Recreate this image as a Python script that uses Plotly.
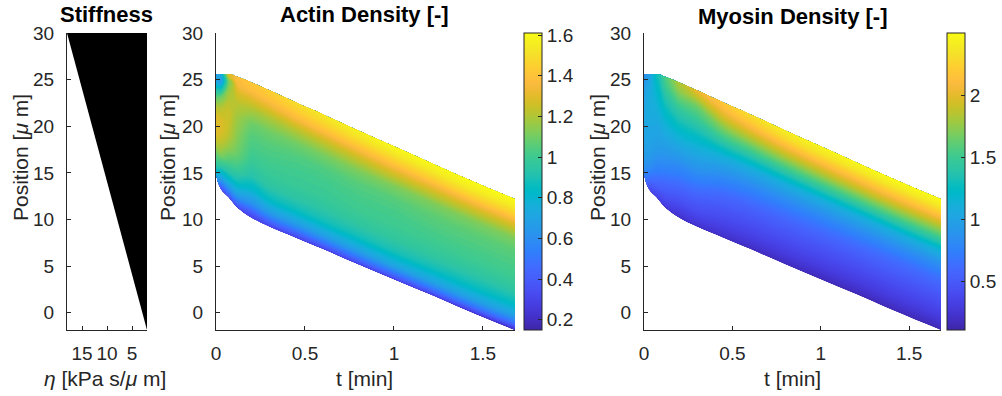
import plotly.graph_objects as go

# ---------------- data ----------------
# time grid [min] and the moving cell boundaries [um]
T = [0, 0.03, 0.07, 0.12, 0.2, 0.3, 0.45, 0.6, 0.8, 1.0, 1.2, 1.4, 1.68]
TOP = [25.2, 25.6, 25.6, 25.3, 24.7, 23.85, 22.55, 21.3, 19.55, 17.85, 16.15, 14.45, 12.2]
BOTTOM = [15.0, 13.2, 12.4, 11.3, 10.2, 9.25, 8.05, 6.85, 5.2, 3.6, 2.0, 0.35, -1.85]
# relative position inside the cell (0 = rear/bottom, 1 = front/top)
S = [0, 0.04, 0.1, 0.2, 0.3, 0.4, 0.5, 0.6, 0.7, 0.8, 0.88, 0.94, 1.0]

# actin density, one row per time in T, values along S
ACTIN = [
    [0.80, 0.88, 0.98, 1.08, 1.20, 1.28, 1.30, 1.28, 1.20, 1.05, 0.90, 0.75, 0.65],
    [0.35, 0.50, 0.70, 0.95, 1.12, 1.22, 1.28, 1.28, 1.22, 1.10, 0.85, 0.65, 0.75],
    [0.35, 0.50, 0.70, 0.92, 1.05, 1.15, 1.22, 1.25, 1.25, 1.20, 1.15, 1.10, 1.30],
    [0.33, 0.48, 0.68, 0.88, 1.00, 1.08, 1.12, 1.15, 1.18, 1.22, 1.28, 1.35, 1.38],
    [0.30, 0.40, 0.60, 0.80, 0.92, 0.98, 1.02, 1.05, 1.10, 1.20, 1.30, 1.38, 1.42],
    [0.30, 0.45, 0.65, 0.85, 0.95, 0.99, 1.02, 1.05, 1.10, 1.20, 1.32, 1.40, 1.45],
    [0.30, 0.45, 0.66, 0.86, 0.95, 0.99, 1.01, 1.04, 1.10, 1.22, 1.36, 1.44, 1.50],
    [0.30, 0.46, 0.67, 0.87, 0.95, 0.99, 1.01, 1.04, 1.11, 1.24, 1.39, 1.48, 1.54],
    [0.30, 0.47, 0.68, 0.87, 0.96, 1.00, 1.02, 1.05, 1.12, 1.26, 1.41, 1.51, 1.57],
    [0.30, 0.48, 0.70, 0.88, 0.96, 1.00, 1.02, 1.05, 1.12, 1.28, 1.43, 1.53, 1.60],
    [0.28, 0.47, 0.69, 0.87, 0.96, 1.00, 1.03, 1.06, 1.12, 1.28, 1.44, 1.54, 1.60],
    [0.25, 0.46, 0.68, 0.86, 0.95, 1.00, 1.03, 1.06, 1.12, 1.28, 1.45, 1.55, 1.61],
    [0.20, 0.43, 0.66, 0.85, 0.95, 1.00, 1.03, 1.06, 1.12, 1.28, 1.45, 1.55, 1.61],
]

# myosin density, one row per time in T, values along S
MYOSIN = [
    [0.88, 0.90, 0.92, 0.95, 0.98, 1.00, 1.02, 1.03, 1.02, 1.00, 0.95, 0.85, 0.75],
    [0.38, 0.50, 0.65, 0.85, 0.95, 1.00, 1.03, 1.06, 1.08, 1.08, 1.05, 1.00, 0.95],
    [0.32, 0.42, 0.55, 0.72, 0.85, 0.95, 1.00, 1.05, 1.10, 1.15, 1.20, 1.25, 1.30],
    [0.28, 0.36, 0.47, 0.62, 0.78, 0.90, 1.00, 1.10, 1.20, 1.32, 1.42, 1.50, 1.55],
    [0.22, 0.30, 0.40, 0.55, 0.70, 0.85, 1.00, 1.15, 1.30, 1.45, 1.62, 1.75, 1.85],
    [0.22, 0.30, 0.40, 0.52, 0.68, 0.85, 1.00, 1.15, 1.32, 1.50, 1.65, 1.85, 2.05],
    [0.20, 0.27, 0.35, 0.46, 0.58, 0.74, 0.92, 1.12, 1.40, 1.68, 1.92, 2.08, 2.20],
    [0.18, 0.25, 0.33, 0.44, 0.55, 0.70, 0.88, 1.10, 1.42, 1.76, 2.02, 2.20, 2.32],
    [0.17, 0.24, 0.32, 0.43, 0.54, 0.68, 0.87, 1.10, 1.45, 1.82, 2.10, 2.30, 2.42],
    [0.16, 0.23, 0.31, 0.42, 0.53, 0.67, 0.86, 1.10, 1.47, 1.85, 2.14, 2.34, 2.46],
    [0.15, 0.22, 0.30, 0.41, 0.52, 0.66, 0.86, 1.10, 1.48, 1.87, 2.16, 2.36, 2.48],
    [0.15, 0.22, 0.30, 0.41, 0.52, 0.65, 0.85, 1.10, 1.49, 1.88, 2.17, 2.37, 2.49],
    [0.14, 0.21, 0.30, 0.41, 0.52, 0.66, 0.86, 1.12, 1.50, 1.88, 2.18, 2.38, 2.50],
]

ACTIN_RANGE = [0.15, 1.61]
MYOSIN_RANGE = [0.11, 2.5]
ACTIN_TICKS = [0.2, 0.4, 0.6, 0.8, 1.0, 1.2, 1.4, 1.6]
MYOSIN_TICKS = [0.5, 1.0, 1.5, 2.0]

# stiffness panel: viscosity eta [kPa s/um] vs position [um]
STIFF_POS = [-1.85, 30]
STIFF_ETA = [2, 18]
STIFF_TICKS = [5, 10, 15]
T_TICKS = [0, 0.5, 1, 1.5]
POS_TICKS = [0, 5, 10, 15, 20, 25, 30]

# ---------------- parula colormap ----------------
PARULA = [
    (0.2422, 0.1504, 0.6603), (0.2504, 0.1650, 0.7076), (0.2578, 0.1818, 0.7511), (0.2647, 0.1978, 0.7952),
    (0.2706, 0.2147, 0.8364), (0.2751, 0.2342, 0.8710), (0.2783, 0.2559, 0.8991), (0.2803, 0.2782, 0.9221),
    (0.2813, 0.3006, 0.9414), (0.2810, 0.3228, 0.9579), (0.2795, 0.3447, 0.9717), (0.2760, 0.3667, 0.9829),
    (0.2699, 0.3892, 0.9906), (0.2602, 0.4123, 0.9952), (0.2440, 0.4358, 0.9988), (0.2206, 0.4603, 0.9973),
    (0.1963, 0.4847, 0.9892), (0.1834, 0.5074, 0.9798), (0.1786, 0.5289, 0.9682), (0.1764, 0.5499, 0.9520),
    (0.1687, 0.5703, 0.9359), (0.1540, 0.5902, 0.9218), (0.1460, 0.6091, 0.9079), (0.1380, 0.6276, 0.8973),
    (0.1248, 0.6459, 0.8883), (0.1113, 0.6635, 0.8763), (0.0952, 0.6798, 0.8598), (0.0689, 0.6948, 0.8394),
    (0.0297, 0.7082, 0.8163), (0.0036, 0.7203, 0.7917), (0.0067, 0.7312, 0.7660), (0.0433, 0.7411, 0.7394),
    (0.0964, 0.7500, 0.7120), (0.1408, 0.7584, 0.6842), (0.1717, 0.7670, 0.6554), (0.1938, 0.7758, 0.6251),
    (0.2161, 0.7843, 0.5923), (0.2470, 0.7918, 0.5567), (0.2906, 0.7973, 0.5188), (0.3406, 0.8008, 0.4789),
    (0.3909, 0.8029, 0.4354), (0.4456, 0.8024, 0.3909), (0.5044, 0.7993, 0.3480), (0.5616, 0.7942, 0.3045),
    (0.6174, 0.7876, 0.2612), (0.6720, 0.7793, 0.2227), (0.7242, 0.7698, 0.1910), (0.7738, 0.7598, 0.1646),
    (0.8203, 0.7498, 0.1535), (0.8634, 0.7406, 0.1596), (0.9035, 0.7330, 0.1774), (0.9393, 0.7288, 0.2100),
    (0.9728, 0.7298, 0.2394), (0.9956, 0.7434, 0.2371), (0.9970, 0.7659, 0.2199), (0.9952, 0.7893, 0.2028),
    (0.9892, 0.8136, 0.1885), (0.9786, 0.8386, 0.1766), (0.9676, 0.8639, 0.1643), (0.9610, 0.8890, 0.1537),
    (0.9597, 0.9135, 0.1423), (0.9628, 0.9373, 0.1265), (0.9691, 0.9606, 0.1064), (0.9769, 0.9839, 0.0805),
]
n = len(PARULA)
parula = [[i / (n - 1), "rgb(%d,%d,%d)" % tuple(round(255 * c) for c in rgb)] for i, rgb in enumerate(PARULA)]

# ---------------- layout helpers ----------------
W, H = 1002, 396
FONT = "Liberation Sans, Arial, Helvetica, sans-serif"
INK = "#262626"
TICK_SIZE = 19


def fx(p):
    return p / W


def fy(p):
    return 1 - p / H


PLOT_TOP, PLOT_BOTTOM = 33, 330
ydom = [fy(PLOT_BOTTOM), fy(PLOT_TOP)]

# carpet geometry built from the boundary arrays
carpet_x = [[t for t in T] for s in S]
carpet_y = [[b + s * (tp - b) for tp, b in zip(TOP, BOTTOM)] for s in S]
actin_z = [[ACTIN[i][j] for i in range(len(T))] for j in range(len(S))]
myosin_z = [[MYOSIN[i][j] for i in range(len(T))] for j in range(len(S))]

hidden_carpet_axis = dict(showgrid=False, showline=False, startline=False, endline=False,
                          showticklabels="none", minorgridcount=0, gridwidth=0, linewidth=0,
                          tickmode="array", tickvals=[])

fig = go.Figure()

# --- stiffness triangle
fig.add_trace(go.Scatter(
    x=[STIFF_ETA[0], STIFF_ETA[1], STIFF_ETA[0]],
    y=[STIFF_POS[0], STIFF_POS[1], STIFF_POS[1]],
    fill="toself", fillcolor="black", mode="lines", line=dict(width=0, color="black"),
    xaxis="x", yaxis="y", showlegend=False, hoverinfo="skip"))


def add_field(z, carpet_id, xa, ya, crange, ticks, cb_left):
    fig.add_trace(go.Carpet(
        carpet=carpet_id, a=T, b=S, x=carpet_x, y=carpet_y,
        aaxis=hidden_carpet_axis, baxis=hidden_carpet_axis,
        xaxis=xa, yaxis=ya))
    lo, hi = crange
    nlev = 110
    step = (hi - lo) / nlev
    fig.add_trace(go.Contourcarpet(
        carpet=carpet_id, a=T, b=S, z=z,
        autocontour=False,
        contours=dict(start=lo, end=hi, size=step, coloring="fill", showlines=False),
        line=dict(width=0),
        colorscale=parula, zmin=lo, zmax=hi, showscale=False,
        xaxis=xa, yaxis=ya))
    # continuous colour bar
    fig.add_trace(go.Scatter(
        x=[None], y=[None], mode="markers", xaxis=xa, yaxis=ya, showlegend=False,
        hoverinfo="skip",
        marker=dict(color=[lo], cmin=lo, cmax=hi, colorscale=parula, showscale=True,
                    colorbar=dict(
                        x=fx(cb_left), xanchor="left", xref="paper",
                        y=fy((PLOT_TOP + PLOT_BOTTOM) / 2), yanchor="middle",
                        len=PLOT_BOTTOM - PLOT_TOP, lenmode="pixels",
                        thickness=18, thicknessmode="pixels",
                        xpad=0, ypad=0, borderwidth=0,
                        outlinewidth=1, outlinecolor=INK,
                        tickmode="array", tickvals=ticks,
                        ticks="inside", ticklen=4, tickcolor=INK,
                        ticklabelposition="outside",
                        tickfont=dict(family=FONT, size=TICK_SIZE, color=INK)))))


add_field(actin_z, "ca", "x2", "y2", ACTIN_RANGE, ACTIN_TICKS, 524)
add_field(myosin_z, "cm", "x3", "y3", MYOSIN_RANGE, MYOSIN_TICKS, 947)

axis_style = dict(showline=True, linecolor=INK, linewidth=1, ticks="inside", ticklen=4,
                  tickcolor=INK, tickwidth=1, showgrid=False, zeroline=False, mirror=False,
                  automargin=False, tickfont=dict(family=FONT, size=TICK_SIZE, color=INK))

fig.update_layout(
    width=W, height=H, margin=dict(l=0, r=0, t=0, b=0, autoexpand=False),
    paper_bgcolor="white", plot_bgcolor="white", showlegend=False,
    xaxis=dict(domain=[fx(67), fx(147)], range=[STIFF_ETA[1], STIFF_ETA[0]],
               tickmode="array", tickvals=STIFF_TICKS, anchor="y",
               ticklabelstandoff=6, **axis_style),
    yaxis=dict(domain=ydom, range=[STIFF_POS[0], STIFF_POS[1]], tickmode="array",
               tickvals=POS_TICKS, anchor="x", ticklabelstandoff=8, **axis_style),
    xaxis2=dict(domain=[fx(216), fx(515)], range=[T[0], T[-1]], tickmode="array",
                tickvals=T_TICKS, anchor="y2", ticklabelstandoff=6, **axis_style),
    yaxis2=dict(domain=ydom, range=[STIFF_POS[0], STIFF_POS[1]], tickmode="array",
                tickvals=POS_TICKS, anchor="x2", ticklabelstandoff=8, **axis_style),
    xaxis3=dict(domain=[fx(644), fx(941)], range=[T[0], T[-1]], tickmode="array",
                tickvals=T_TICKS, anchor="y3", ticklabelstandoff=6, **axis_style),
    yaxis3=dict(domain=ydom, range=[STIFF_POS[0], STIFF_POS[1]], tickmode="array",
                tickvals=POS_TICKS, anchor="x3", ticklabelstandoff=8, **axis_style),
)

ann = []
title_font = dict(family=FONT, size=22, color="black")
label_font = dict(family=FONT, size=21, color=INK)
for text, cx, cy in [("Stiffness", 106, 15), ("Actin Density [-]", 364, 15), ("Myosin Density [-]", 792, 16)]:
    ann.append(dict(text="<b>%s</b>" % text, x=fx(cx), y=fy(cy), xref="paper", yref="paper",
                    xanchor="center", yanchor="middle", showarrow=False, font=title_font))
for cx in [20, 167, 597]:
    ann.append(dict(text="Position [<i>μ</i> m]", x=fx(cx), y=fy(158), xref="paper", yref="paper",
                    xanchor="center", yanchor="middle", textangle=-90, showarrow=False, font=label_font))
for text, cx in [("<i>η</i> [kPa s/<i>μ</i> m]", 105), ("t [min]", 364), ("t [min]", 792)]:
    ann.append(dict(text=text, x=fx(cx), y=fy(378), xref="paper", yref="paper",
                    xanchor="center", yanchor="middle", showarrow=False, font=label_font))
fig.update_layout(annotations=ann)

fig.write_html("out.html")
